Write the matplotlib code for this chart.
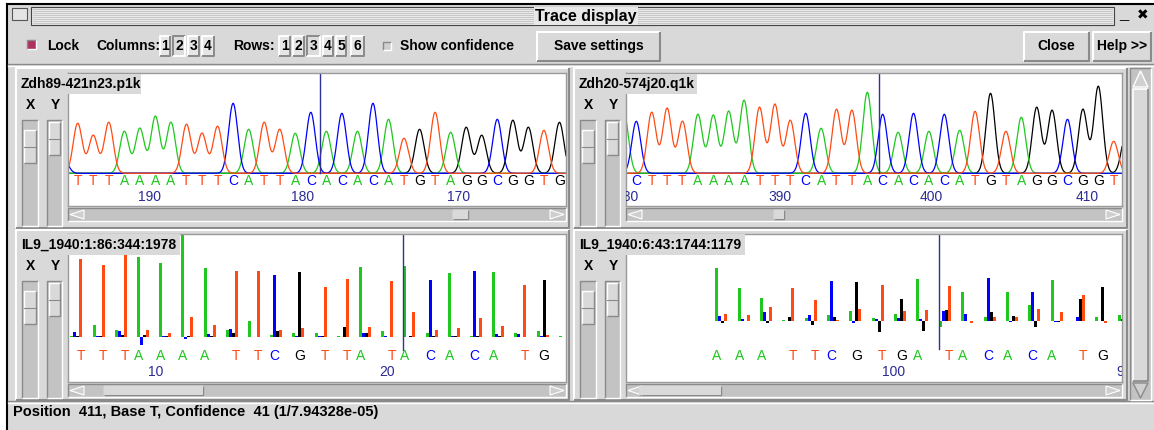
import numpy as np
import matplotlib
matplotlib.use("Agg")
import matplotlib.pyplot as plt
from matplotlib.patches import Rectangle, Polygon

# ---- values ----
# top left trace (Zdh89-421n23.p1k), peak heights in pixels above baseline
tl_name = "Zdh89-421n23.p1k"
tl_bases = list("TTTAAAATTTCATTACACACATGTAGGCGGTG")
tl_heights = [50, 38, 51, 42, 45, 57, 51, 49, 40, 47, 70, 44, 51, 44, 40, 61,
              42, 60, 42, 70, 54, 35, 44, 61, 41, 46, 38, 54, 53, 46, 43, 51]
tl_extra = [("C", -0.9, 14)]
tl_ticks = [4.6, 14.5, 24.5]
tl_labels = ["190", "180", "170"]
tl_cursor = 15.6

# top right trace (Zdh20-574j20.q1k)
tr_name = "Zdh20-574j20.q1k"
tr_bases = list("CTTTAAAATTTCATTACACACATGTAGGCGGT")
tr_heights = [52, 61, 65, 52, 59, 58, 62, 73, 66, 69, 53, 60, 45, 64, 63, 81,
              59, 41, 60, 42, 59, 43, 62, 80, 42, 56, 66, 63, 54, 64, 87, 32]
tr_extra = [("A", -0.8, 60), ("G", 31.8, 40)]
tr_ticks = [-0.6, 9.36, 19.15, 29.3]
tr_labels = ["380", "390", "400", "410"]
tr_cursor = 15.77

# bottom left bars (IL9_1940:1:86:344:1978), one value per channel per cycle
bl_name = "IL9_1940:1:86:344:1978"
bl_A = [1.7, 12.7, 7.3, 80, 74, 103.3, 69.3, 7.3, 16, 2.7, 4, 4, 1.7, 70, 6.7, 71, 4, 64.3, 1.7, 65.3, 4, 6, 1.7]
bl_C = [5, 1.7, 6, -7.3, 1, -1.7, 3.3, 8.3, 0, 62, 1.7, 1.7, 0, 4, 1.7, 0, 57.3, 1, 66.7, 3.3, 3.3, 1.7, 0]
bl_G = [1.7, 1.7, 2.7, 2.7, 1.7, 1.7, 1, 4, 0.7, 6, 65.3, 1.7, 10.7, 4, 0, 1.7, 1.7, 1.7, 1.7, 1.7, 0, 57.3, 0]
bl_T = [78.7, 72, 83.3, 7.3, 4, 20.7, 12.7, 66.7, 66.7, 7.3, 9.3, 50.7, 58.3, 10.7, 56.7, 25, 7.3, 9.3, 19.3, 11.7, 52.7, 2.7, 0]
bl_calls = list("TTTAAAATTCGTTATACACATG") + [""]
bl_ticks = [3.85, 14.25]
bl_labels = ["10", "20"]
bl_cursor = 15.0

# bottom right bars (IL9_1940:6:43:1744:1179)
br_name = "IL9_1940:6:43:1744:1179"
br_A = [53.3, 33.3, 23.3, 1.7, 3.3, 6.7, 10, 3.3, 7.7, 42.3, -6, 29, 4.3, 29, 16.7, 41, 0, 4.3, 6.7]
br_C = [5, 2.3, 9, 0, 6.7, 40, -1.7, 2.3, 3.3, 2.3, 10, 7.7, 43.3, -1, 29, -1, 4.3, 0, 2.3]
br_G = [-1.7, 0, -1.7, 4.3, -3.3, 4.3, 39, -11, 22.3, -10, 11, 0, 9, 5.7, -6, -1, 22.3, 34.3, 0]
br_T = [7.7, 6.7, 14.3, 33.3, 21.3, 1.7, 12.3, 36.7, 10, 11, 35.7, -1.7, 4.3, 4.3, 12.3, 9, 26.7, -1.7, 0]
br_calls = list("AAATTCGTGATACACATG") + [""]
br_ticks = [7.96, 18.3]
br_labels = ["100", "90"]
br_cursor = 10.0

status = "Position  411, Base T, Confidence  41 (1/7.94328e-05)"

# ---- look ----
W, H = 1154, 430
BG = "#d9d9d9"
TROUGH = "#c3c3c3"
DARK = "#8a8a8a"
COL = {"A": "#1ec81e", "C": "#0000ff", "G": "#000000", "T": "#ff4a14"}
NUMCOL = "#2b2b96"
CURCOL = "#30309a"
BOLD = ["Liberation Sans Narrow", "Liberation Sans", "DejaVu Sans"]
SEQF = ["Liberation Sans", "DejaVu Sans"]

plt.rcParams["font.family"] = BOLD

fig = plt.figure(figsize=(W / 100, H / 100), dpi=100)
fig.patch.set_facecolor("white")


def pix_axes(x0, y0, x1, y1, z=0):
    a = fig.add_axes([x0 / W, 1 - y1 / H, (x1 - x0) / W, (y1 - y0) / H], zorder=z)
    return a


ui = pix_axes(0, 0, W, H, z=0)
ui.set_xlim(0, W)
ui.set_ylim(H, 0)
ui.axis("off")


def box(ax, x0, y0, x1, y1, fc=BG, ec="none", lw=1, z=1):
    ax.add_patch(Rectangle((x0, y0), x1 - x0, y1 - y0, fc=fc, ec=ec, lw=lw, zorder=z))


def bevel(ax, x0, y0, x1, y1, raised=True, lw=1.2, z=2):
    hi, lo = ("white", DARK) if raised else (DARK, "white")
    ax.plot([x0, x0, x1], [y1, y0, y0], color=hi, lw=lw, zorder=z, solid_capstyle="butt")
    ax.plot([x0, x1, x1], [y1, y1, y0], color=lo, lw=lw, zorder=z, solid_capstyle="butt")


# window
box(ui, 7, 4, W, H, fc=BG, z=0)
ui.plot([7, 7], [H, 4], color="black", lw=1.5)
ui.plot([7, W], [4, 4], color="black", lw=1.5)

# title bar
box(ui, 12, 8, 27, 20, fc="#e4e4e4", ec="#555555", lw=0.8)
box(ui, 31, 7, 1114, 25, fc="#e8e8e8", ec="#444444", lw=0.8)
for yy in np.arange(9, 24, 2):
    ui.plot([33, 1112], [yy, yy], color="#c2c2c2", lw=0.6, zorder=2)
ui.text(586, 16, "Trace display", ha="center", va="center", fontsize=11.5, fontweight="bold",
        zorder=3, bbox=dict(fc="#e8e8e8", ec="none", pad=1))
ui.text(1124, 15, "_", ha="center", va="center", fontsize=12, fontweight="bold")
ui.text(1143, 15, "\u2716", ha="center", va="center", fontsize=10, family="DejaVu Sans")

# toolbar
box(ui, 27, 40, 36, 49, fc="#b03060", z=2)
bevel(ui, 27, 40, 36, 49, raised=False, lw=1)
ui.text(47, 45.5, "Lock", va="center", fontsize=10, fontweight="bold")
ui.text(96, 45.5, "Columns:", va="center", fontsize=10, fontweight="bold")
for lab, x0, x1, on in [("1", 160, 170, False), ("2", 173, 185, True),
                        ("3", 188, 199, False), ("4", 202, 214, False)]:
    box(ui, x0, 36, x1, 56, fc="#dcdcdc" if on else "#e6e6e6", z=2)
    bevel(ui, x0, 36, x1, 56, raised=not on, lw=1.4)
    ui.text((x0 + x1) / 2, 46, lab, ha="center", va="center", fontsize=10, fontweight="bold", zorder=3)
ui.text(233, 45.5, "Rows:", va="center", fontsize=10, fontweight="bold")
for lab, x0, x1, on in [("1", 279, 290, False), ("2", 293, 304, False), ("3", 307, 320, True),
                        ("4", 323, 333, False), ("5", 336, 346, False), ("6", 351, 364, False)]:
    box(ui, x0, 36, x1, 56, fc="#dcdcdc" if on else "#e6e6e6", z=2)
    bevel(ui, x0, 36, x1, 56, raised=not on, lw=1.4)
    ui.text((x0 + x1) / 2, 46, lab, ha="center", va="center", fontsize=10, fontweight="bold", zorder=3)
box(ui, 383, 42, 391, 50, fc="#cfcfcf", z=2)
bevel(ui, 383, 42, 391, 50, raised=False, lw=1)
ui.text(400, 45.5, "Show confidence", va="center", fontsize=10, fontweight="bold")
for lab, x0, x1 in [("Save settings", 537, 660), ("Close", 1024, 1089), ("Help >>", 1093, 1151)]:
    box(ui, x0, 32, x1, 61, fc=BG, z=2)
    bevel(ui, x0, 32, x1, 61, raised=True, lw=1.5)
    ui.text((x0 + x1) / 2, 46, lab, ha="center", va="center", fontsize=10, fontweight="bold", zorder=3)
ui.plot([8, W], [64, 64], color=DARK, lw=1)
ui.plot([8, W], [65.5, 65.5], color="white", lw=1)

# status bar
ui.plot([8, W], [401, 401], color=DARK, lw=1)
ui.plot([8, W], [402.5, 402.5], color="white", lw=1)
ui.text(13, 412, status, va="center", fontsize=10.5, fontweight="bold")

# right scrollbar
box(ui, 1130, 68, 1151, 400, fc=TROUGH, z=1)
bevel(ui, 1130, 68, 1151, 400, raised=False, lw=1)
box(ui, 1133, 89, 1148, 381, fc=BG, z=2)
bevel(ui, 1133, 89, 1148, 381, raised=True, lw=1.2)
ui.add_patch(Polygon([[1133, 87], [1148, 87], [1140.5, 71]], fc="#d0d0d0", ec="white", lw=1, zorder=3))
ui.add_patch(Polygon([[1133, 383], [1148, 383], [1140.5, 398]], fc="#d0d0d0", ec=DARK, lw=1, zorder=3))

# panel geometry (pixels): frame, plot area, baseline, first x, step, thumb, name box
panels = [
    dict(frame=(16, 68, 569, 228), plot=(68, 73, 566, 206), base=173.3, x0=77.7, step=15.54,
         thumb=(453, 468), name=tl_name, nbox=(18, 74, 141, 94)),
    dict(frame=(574, 68, 1127, 228), plot=(626, 73, 1122, 206), base=173.3, x0=636.3, step=15.4,
         thumb=(774, 784), name=tr_name, nbox=(576, 74, 697, 94)),
    dict(frame=(16, 230, 569, 400), plot=(68, 234, 566, 382), base=337.3, x0=70.3, step=22.2,
         thumb=(104, 203), name=bl_name, nbox=(18, 234, 180, 255)),
    dict(frame=(574, 230, 1127, 400), plot=(626, 234, 1122, 382), base=321.3, x0=715.3, step=22.35,
         thumb=(639, 721), name=br_name, nbox=(576, 234, 745, 255)),
]

plot_axes = []
for p in panels:
    fx0, fy0, fx1, fy1 = p["frame"]
    px0, py0, px1, py1 = p["plot"]
    bevel(ui, fx0, fy0, fx1, fy1, raised=True, lw=1.5)
    # X / Y sliders
    sy0 = p["nbox"][3] + 26
    ui.text(fx0 + 15, p["nbox"][3] + 11, "X", ha="center", va="center", fontsize=10, fontweight="bold")
    ui.text(fx0 + 39, p["nbox"][3] + 11, "Y", ha="center", va="center", fontsize=10, fontweight="bold")
    for sx0, sx1, t0 in [(fx0 + 6, fx0 + 22, sy0 + 10), (fx0 + 31, fx0 + 46, sy0 + 2)]:
        box(ui, sx0, sy0, sx1, fy1 - 2, fc=TROUGH, z=1)
        bevel(ui, sx0, sy0, sx1, fy1 - 2, raised=False, lw=1)
        box(ui, sx0 + 2, t0, sx1 - 2, t0 + 33, fc=BG, z=2)
        bevel(ui, sx0 + 2, t0, sx1 - 2, t0 + 33, raised=True, lw=1)
        ui.plot([sx0 + 2, sx1 - 2], [t0 + 16.5, t0 + 16.5], color=DARK, lw=0.8, zorder=3)
    # horizontal scrollbar
    hy0, hy1 = py1 + 2, py1 + 15
    box(ui, px0, hy0, px1, hy1, fc=TROUGH, z=1)
    bevel(ui, px0, hy0, px1, hy1, raised=False, lw=1)
    ui.add_patch(Polygon([[px0 + 16, hy0 + 2], [px0 + 16, hy1 - 2], [px0 + 2, (hy0 + hy1) / 2]],
                         fc="#cfcfcf", ec="white", lw=0.8, zorder=3))
    ui.add_patch(Polygon([[px1 - 16, hy0 + 2], [px1 - 16, hy1 - 2], [px1 - 2, (hy0 + hy1) / 2]],
                         fc="#cfcfcf", ec="white", lw=0.8, zorder=3))
    t0, t1 = p["thumb"]
    box(ui, t0, hy0 + 2, t1, hy1 - 2, fc=BG, z=3)
    bevel(ui, t0, hy0 + 2, t1, hy1 - 2, raised=True, lw=1)

    a = pix_axes(px0, py0, px1, py1, z=2)
    a.set_facecolor("white")
    a.set_xlim((px0 - p["x0"]) / p["step"], (px1 - p["x0"]) / p["step"])
    a.set_ylim(-(py1 - p["base"]), p["base"] - py0)
    a.set_xticks([])
    a.set_yticks([])
    for s in a.spines.values():
        s.set_color("#9a9a9a")
        s.set_linewidth(1)
    plot_axes.append(a)

SIG = 0.29


def trace(ax, bases, heights, extra, ticks, labels, cursor, lo, hi):
    xs = np.linspace(lo, hi, 2000)
    pos = np.arange(len(bases))
    for ch in ["G", "A", "C", "T"]:
        y = np.zeros_like(xs)
        for i, b in enumerate(bases):
            if b == ch:
                y += heights[i] * np.exp(-(xs - pos[i]) ** 2 / (2 * SIG ** 2))
        for b, xc, h in extra:
            if b == ch:
                y += h * np.exp(-(xs - xc) ** 2 / (2 * SIG ** 2))
        ax.plot(xs, y, color=COL[ch], lw=0.9)
    for i, b in enumerate(bases):
        ax.text(pos[i], -8, b, ha="center", va="center", color=COL[b], fontsize=10, family=SEQF)
    for t, l in zip(ticks, labels):
        ax.text(t, -23.5, l, ha="center", va="center", color=NUMCOL, fontsize=10, family=SEQF, clip_on=True)
    ax.plot([cursor, cursor], [0, 200], color=CURCOL, lw=1)


def bars(ax, chans, calls, ticks, labels, cursor, step, ylet, ynum, ycur):
    bw = 3.0 / step
    n = len(calls)
    xs = np.arange(n)
    for k, ch in enumerate(["A", "C", "G", "T"]):
        ax.bar(xs + k * bw, chans[ch], width=bw, align="edge", color=COL[ch], lw=0)
    for i, c in enumerate(calls):
        if c:
            k = "ACGT".index(c)
            ax.text(i + k * bw + bw / 2, ylet, c, ha="center", va="center", color=COL[c], fontsize=10, family=SEQF)
    for t, l in zip(ticks, labels):
        ax.text(t, ynum, l, ha="center", va="center", color=NUMCOL, fontsize=10, family=SEQF, clip_on=True)
    ax.plot([cursor, cursor], [ycur, 200], color=CURCOL, lw=1)


a = plot_axes[0]
trace(a, tl_bases, tl_heights, tl_extra, tl_ticks, tl_labels, tl_cursor, *a.get_xlim())
a = plot_axes[1]
trace(a, tr_bases, tr_heights, tr_extra, tr_ticks, tr_labels, tr_cursor, *a.get_xlim())
a = plot_axes[2]
bars(a, {"A": bl_A, "C": bl_C, "G": bl_G, "T": bl_T}, bl_calls, bl_ticks, bl_labels, bl_cursor,
     22.2, -19, -35, -12.3)
a = plot_axes[3]
bars(a, {"A": br_A, "C": br_C, "G": br_G, "T": br_T}, br_calls, br_ticks, br_labels, br_cursor,
     22.35, -35, -51, -27.4)

# name labels sit on top of the plots
ov = pix_axes(0, 0, W, H, z=5)
ov.set_xlim(0, W)
ov.set_ylim(H, 0)
ov.axis("off")
ov.patch.set_alpha(0)
for p in panels:
    x0, y0, x1, y1 = p["nbox"]
    box(ov, x0, y0, x1, y1, fc=BG, z=1)
    ov.text(x0 + 3, (y0 + y1) / 2, p["name"], va="center", fontsize=10, fontweight="bold", zorder=2)

fig.savefig("out.png", dpi=100)
